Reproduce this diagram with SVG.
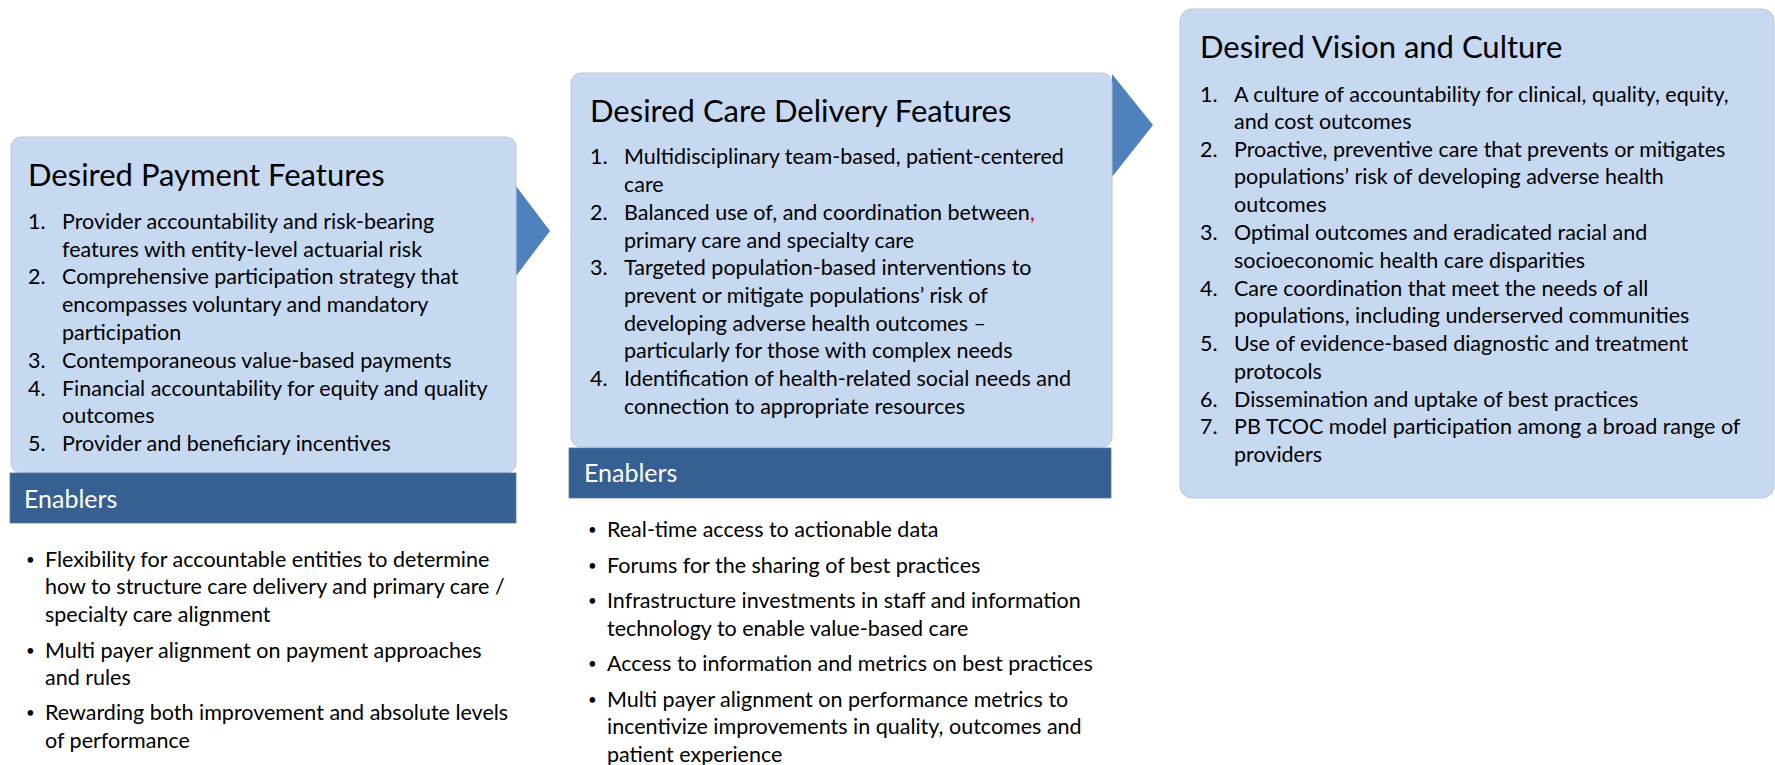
<svg xmlns="http://www.w3.org/2000/svg" width="1775" height="765" viewBox="0 0 1775 765">
<style>
.box{fill:#C6D9F0;stroke:#BCC7D4;stroke-width:1}
.bar{fill:#366092;stroke:#5A7BA3;stroke-width:0.8}
.title{font-family:Lato,"Liberation Sans",sans-serif;font-size:31px;fill:#000}
.body{font-family:Lato,"Liberation Sans",sans-serif;font-size:21.5px;fill:#000}
.bul{font-size:15px}
.hdr{font-family:Lato,"Liberation Sans",sans-serif;font-size:25px;fill:#fff}
.arrow{fill:#4F81BD}
</style>
<rect width="1775" height="765" fill="#fff"/>
<g id="connectors">
<polygon class="arrow" points="516,186 550,231 516,276"/>
<polygon class="arrow" points="1112,74 1153,125 1112,177"/>
</g>
<g id="payment">
<rect class="box" x="11" y="137" width="505" height="336" rx="10"/>
<text class="title" x="28" y="186">Desired Payment Features</text>
<g class="body">
<text x="28" y="229">1.</text><text x="62" y="229">Provider accountability and risk-bearing</text>
<text x="62" y="257">features with entity-level actuarial risk</text>
<text x="28" y="284">2.</text><text x="62" y="284">Comprehensive participation strategy that</text>
<text x="62" y="312">encompasses voluntary and mandatory</text>
<text x="62" y="340">participation</text>
<text x="28" y="368">3.</text><text x="62" y="368">Contemporaneous value-based payments</text>
<text x="28" y="396">4.</text><text x="62" y="396">Financial accountability for equity and quality</text>
<text x="62" y="423">outcomes</text>
<text x="28" y="451">5.</text><text x="62" y="451">Provider and beneficiary incentives</text>
</g>
</g>
<g id="payment-enablers">
<rect class="bar" x="10" y="473" width="506" height="50"/>
<text class="hdr" x="24" y="508">Enablers</text>
<g class="body">
<text class="bul" x="26" y="565">•</text><text x="45" y="567">Flexibility for accountable entities to determine</text>
<text x="45" y="594">how to structure care delivery and primary care /</text>
<text x="45" y="622">specialty care alignment</text>
<text class="bul" x="26" y="656">•</text><text x="45" y="658">Multi payer alignment on payment approaches</text>
<text x="45" y="685">and rules</text>
<text class="bul" x="26" y="718">•</text><text x="45" y="720">Rewarding both improvement and absolute levels</text>
<text x="45" y="748">of performance</text>
</g>
</g>
<g id="care-delivery">
<rect class="box" x="571" y="73" width="541" height="374" rx="10"/>
<text class="title" x="590" y="122">Desired Care Delivery Features</text>
<g class="body">
<text x="590" y="164">1.</text><text x="624" y="164">Multidisciplinary team-based, patient-centered</text>
<text x="624" y="192">care</text>
<text x="590" y="220">2.</text><text x="624" y="220">Balanced use of, and coordination between<tspan fill="#E00000">,</tspan></text>
<text x="624" y="248">primary care and specialty care</text>
<text x="590" y="275">3.</text><text x="624" y="275">Targeted population-based interventions to</text>
<text x="624" y="303">prevent or mitigate populations’ risk of</text>
<text x="624" y="331">developing adverse health outcomes –</text>
<text x="624" y="358">particularly for those with complex needs</text>
<text x="590" y="386">4.</text><text x="624" y="386">Identification of health-related social needs and</text>
<text x="624" y="414">connection to appropriate resources</text>
</g>
</g>
<g id="care-enablers">
<rect class="bar" x="569" y="448" width="542" height="50"/>
<text class="hdr" x="584" y="482">Enablers</text>
<g class="body">
<text class="bul" x="588" y="535">•</text><text x="607" y="537">Real-time access to actionable data</text>
<text class="bul" x="588" y="571">•</text><text x="607" y="573">Forums for the sharing of best practices</text>
<text class="bul" x="588" y="606">•</text><text x="607" y="608">Infrastructure investments in staff and information</text>
<text x="607" y="636">technology to enable value-based care</text>
<text class="bul" x="588" y="669">•</text><text x="607" y="671">Access to information and metrics on best practices</text>
<text class="bul" x="588" y="705">•</text><text x="607" y="707">Multi payer alignment on performance metrics to</text>
<text x="607" y="734">incentivize improvements in quality, outcomes and</text>
<text x="607" y="762">patient experience</text>
</g>
</g>
<g id="vision">
<rect class="box" x="1180" y="9" width="594" height="489" rx="12"/>
<text class="title" x="1200" y="58">Desired Vision and Culture</text>
<g class="body">
<text x="1200" y="102">1.</text><text x="1234" y="102">A culture of accountability for clinical, quality, equity,</text>
<text x="1234" y="129">and cost outcomes</text>
<text x="1200" y="157">2.</text><text x="1234" y="157">Proactive, preventive care that prevents or mitigates</text>
<text x="1234" y="184">populations’ risk of developing adverse health</text>
<text x="1234" y="212">outcomes</text>
<text x="1200" y="240">3.</text><text x="1234" y="240">Optimal outcomes and eradicated racial and</text>
<text x="1234" y="268">socioeconomic health care disparities</text>
<text x="1200" y="296">4.</text><text x="1234" y="296">Care coordination that meet the needs of all</text>
<text x="1234" y="323">populations, including underserved communities</text>
<text x="1200" y="351">5.</text><text x="1234" y="351">Use of evidence-based diagnostic and treatment</text>
<text x="1234" y="379">protocols</text>
<text x="1200" y="407">6.</text><text x="1234" y="407">Dissemination and uptake of best practices</text>
<text x="1200" y="434">7.</text><text x="1234" y="434">PB TCOC model participation among a broad range of</text>
<text x="1234" y="462">providers</text>
</g>
</g>
</svg>
